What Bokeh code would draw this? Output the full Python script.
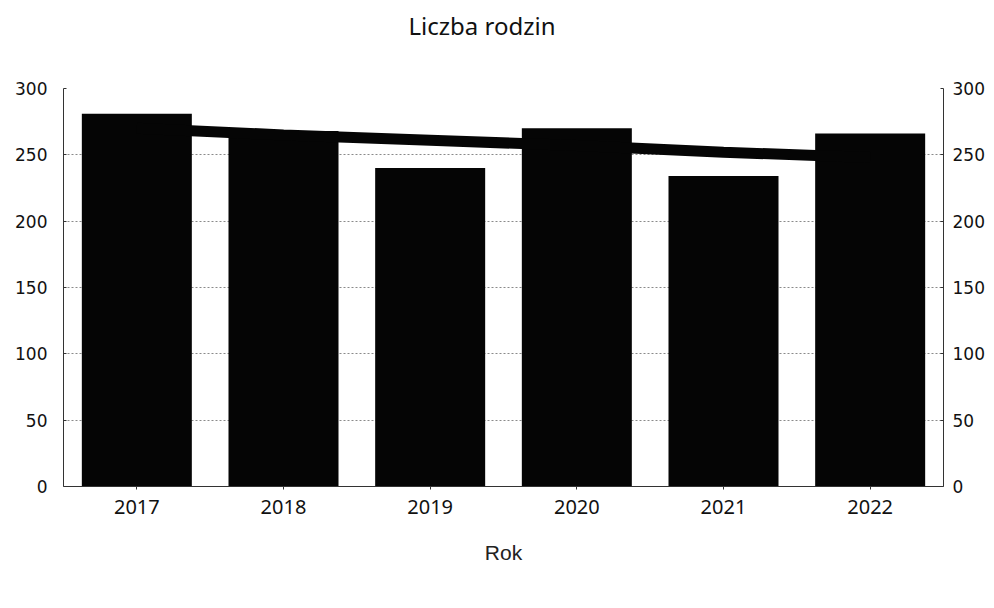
from bokeh.plotting import figure
from bokeh.models import ColumnDataSource, Range1d, LinearAxis, Legend, LegendItem, FactorRange, FixedTicker, Title
from bokeh.embed import file_html
from bokeh.resources import INLINE

years = ["2017", "2018", "2019", "2020", "2021", "2022"]
families = [281, 268, 240, 270, 234, 266]
trend = [270, 265, 261, 257, 252, 248]
y_ticks = [0, 50, 100, 150, 200, 250, 300]
title_text = "Liczba rodzin"

src = ColumnDataSource(dict(year=years, families=families, trend=trend))

p = figure(frame_width=880, frame_height=398,
           x_range=FactorRange(factors=years, range_padding=0),
           y_range=Range1d(0, 300),
           output_backend="svg", toolbar_location=None, title=None,
           min_border_left=63, min_border_right=49,
           min_border_top=0, min_border_bottom=120)
p.extra_y_ranges = {"right": Range1d(0, 300)}

bars = p.vbar(x="year", top="families", width=0.75, source=src,
              fill_color="#050505", line_color=None)
line = p.line(x="year", y="trend", source=src, line_color="#050505",
              line_width=11)

p.outline_line_color = None
p.xgrid.grid_line_color = None
p.ygrid.ticker = FixedTicker(ticks=y_ticks)
p.ygrid.grid_line_color = "#8a8a8a"
p.ygrid.grid_line_dash = "2 2"
p.ygrid.grid_line_width = 1

# spacer between frame and title, then the title itself
p.add_layout(Title(text=" ", text_font_size="20px", standoff=17), "above")
p.add_layout(Title(text=title_text, align="left", offset=345,
                   text_font="Noto Sans", text_font_size="24px",
                   text_font_style="normal", text_color="#111111",
                   standoff=12), "above")

# left axis
ya = p.yaxis[0]
ya.ticker = FixedTicker(ticks=y_ticks)
ya.major_label_text_font = "DejaVu Sans"
ya.major_label_text_font_size = "17px"
ya.major_label_text_color = "#111111"
ya.major_label_standoff = 16
ya.major_tick_in = 3
ya.major_tick_out = 0
ya.minor_tick_line_color = None
ya.axis_line_color = "#333333"
ya.major_tick_line_color = "#333333"

# right axis
ra = LinearAxis(y_range_name="right", ticker=FixedTicker(ticks=y_ticks))
ra.major_label_text_font = "DejaVu Sans"
ra.major_label_text_font_size = "17px"
ra.major_label_text_color = "#111111"
ra.major_label_standoff = 9
ra.major_tick_in = 3
ra.major_tick_out = 0
ra.minor_tick_line_color = None
ra.axis_line_color = "#333333"
ra.major_tick_line_color = "#333333"
p.add_layout(ra, "right")

# x axis
xa = p.xaxis[0]
xa.axis_label = "Rok"
xa.axis_label_text_font = "Liberation Sans"
xa.axis_label_text_font_size = "21px"
xa.axis_label_text_font_style = "normal"
xa.axis_label_text_color = "#222222"
xa.axis_label_standoff = 24
xa.major_label_text_font = "Noto Sans"
xa.major_label_text_font_size = "20px"
xa.major_label_text_color = "#111111"
xa.major_label_standoff = 10
xa.major_tick_in = 0
xa.major_tick_out = 3
xa.axis_line_color = "#333333"
xa.major_tick_line_color = "#333333"

legend = Legend(items=[LegendItem(label="Liczba rodzin", renderers=[bars]),
                       LegendItem(label="Trend", renderers=[line])],
                orientation="horizontal", location=(215, 0),
                label_text_font="Liberation Sans", label_text_font_size="20px",
                label_text_color="#111111", label_height=20,
                glyph_width=14, glyph_height=15, label_standoff=5,
                spacing=20, padding=0, margin=0,
                border_line_color=None, background_fill_alpha=0)
p.add_layout(legend, "below")

open("out.html", "w").write(file_html(p, INLINE))
